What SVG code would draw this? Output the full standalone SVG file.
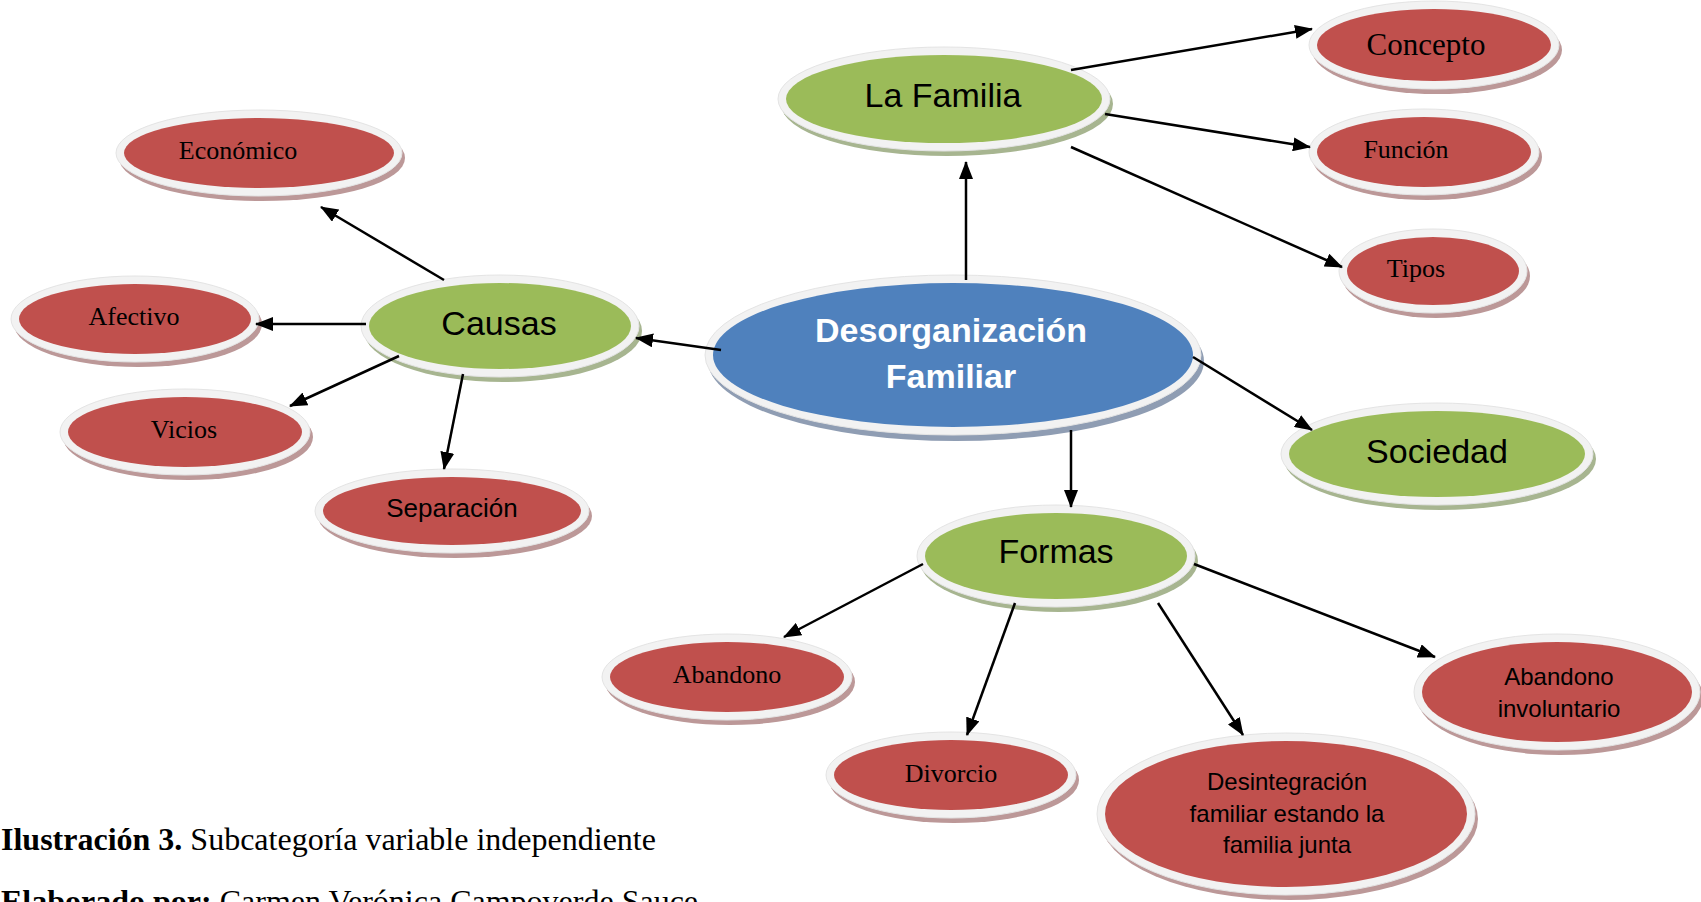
<svg xmlns="http://www.w3.org/2000/svg" width="1701" height="902" viewBox="0 0 1701 902">
<style>
.ring{fill:#f2f2f2;stroke:#e4e4e4;stroke-width:1}
.red .sh{fill:#bc9898}
.red .fill{fill:#c0504d}
.green .sh{fill:#a7b590}
.green .fill{fill:#9bbb59}
.blue .sh{fill:#8f9db3}
.blue .fill{fill:#4f81bd}
.tr{font-family:"Liberation Serif","Times New Roman",serif;font-size:26px;fill:#000;text-anchor:middle}
.ar{font-family:"Liberation Sans",Arial,sans-serif;fill:#000;text-anchor:middle}
.big{font-size:34px}
.mid{font-size:26px}
.sm{font-size:24px}
.cen{font-family:"Liberation Sans",Arial,sans-serif;font-size:34px;font-weight:bold;fill:#fff;text-anchor:middle}
.cap{font-family:"Liberation Serif","Times New Roman",serif;font-size:32px;fill:#000}
#connectors line{stroke:#000;stroke-width:2.5;marker-end:url(#ah)}
</style>
<defs>
<marker id="ah" markerUnits="userSpaceOnUse" markerWidth="18" markerHeight="14" refX="17" refY="7" orient="auto" viewBox="0 0 18 14">
<path d="M0,0 L18,7 L0,14 z" fill="#000"/>
</marker>
</defs>
<rect width="1701" height="902" fill="#fff"/>

<g id="n-central" class="blue">
<ellipse class="sh" cx="956" cy="361" rx="248" ry="80"/>
<ellipse class="ring" cx="953" cy="355" rx="248" ry="80"/>
<ellipse class="fill" cx="953" cy="355" rx="240" ry="72"/>
<text class="cen" x="951" y="342">Desorganización</text>
<text class="cen" x="951" y="388">Familiar</text>
</g>

<g id="n-lafamilia" class="green">
<ellipse class="sh" cx="947" cy="104" rx="166" ry="52"/>
<ellipse class="ring" cx="944" cy="99" rx="166" ry="52"/>
<ellipse class="fill" cx="944" cy="99" rx="158" ry="44"/>
<text class="ar big" x="943" y="107">La Familia</text>
</g>

<g id="n-concepto" class="red">
<ellipse class="sh" cx="1437" cy="50" rx="125" ry="44"/>
<ellipse class="ring" cx="1434" cy="45" rx="125" ry="44"/>
<ellipse class="fill" cx="1434" cy="45" rx="117" ry="36"/>
<text class="tr" style="font-size:31px" x="1426" y="55">Concepto</text>
</g>

<g id="n-funcion" class="red">
<ellipse class="sh" cx="1427" cy="157" rx="115" ry="43"/>
<ellipse class="ring" cx="1424" cy="152" rx="115" ry="43"/>
<ellipse class="fill" cx="1424" cy="152" rx="107" ry="35"/>
<text class="tr" x="1406" y="158">Función</text>
</g>

<g id="n-tipos" class="red">
<ellipse class="sh" cx="1436" cy="276" rx="94" ry="42"/>
<ellipse class="ring" cx="1433" cy="271" rx="94" ry="42"/>
<ellipse class="fill" cx="1433" cy="271" rx="86" ry="34"/>
<text class="tr" x="1416" y="277">Tipos</text>
</g>

<g id="n-economico" class="red">
<ellipse class="sh" cx="262" cy="158" rx="143" ry="43"/>
<ellipse class="ring" cx="259" cy="153" rx="143" ry="43"/>
<ellipse class="fill" cx="259" cy="153" rx="135" ry="35"/>
<text class="tr" x="238" y="159">Económico</text>
</g>

<g id="n-afectivo" class="red">
<ellipse class="sh" cx="138" cy="324" rx="124" ry="43"/>
<ellipse class="ring" cx="135" cy="319" rx="124" ry="43"/>
<ellipse class="fill" cx="135" cy="319" rx="116" ry="35"/>
<text class="tr" x="134" y="325">Afectivo</text>
</g>

<g id="n-causas" class="green">
<ellipse class="sh" cx="503" cy="331" rx="139" ry="51"/>
<ellipse class="ring" cx="500" cy="326" rx="139" ry="51"/>
<ellipse class="fill" cx="500" cy="326" rx="131" ry="43"/>
<text class="ar big" x="499" y="335">Causas</text>
</g>

<g id="n-vicios" class="red">
<ellipse class="sh" cx="188" cy="437" rx="125" ry="43"/>
<ellipse class="ring" cx="185" cy="432" rx="125" ry="43"/>
<ellipse class="fill" cx="185" cy="432" rx="117" ry="35"/>
<text class="tr" x="184" y="438">Vicios</text>
</g>

<g id="n-separacion" class="red">
<ellipse class="sh" cx="455" cy="516" rx="137" ry="42"/>
<ellipse class="ring" cx="452" cy="511" rx="137" ry="42"/>
<ellipse class="fill" cx="452" cy="511" rx="129" ry="34"/>
<text class="ar mid" x="452" y="517">Separación</text>
</g>

<g id="n-sociedad" class="green">
<ellipse class="sh" cx="1440" cy="459" rx="156" ry="51"/>
<ellipse class="ring" cx="1437" cy="454" rx="156" ry="51"/>
<ellipse class="fill" cx="1437" cy="454" rx="148" ry="43"/>
<text class="ar big" x="1437" y="463">Sociedad</text>
</g>

<g id="n-formas" class="green">
<ellipse class="sh" cx="1059" cy="561" rx="139" ry="51"/>
<ellipse class="ring" cx="1056" cy="556" rx="139" ry="51"/>
<ellipse class="fill" cx="1056" cy="556" rx="131" ry="43"/>
<text class="ar big" x="1056" y="563">Formas</text>
</g>

<g id="n-abandono" class="red">
<ellipse class="sh" cx="730" cy="682" rx="125" ry="43"/>
<ellipse class="ring" cx="727" cy="677" rx="125" ry="43"/>
<ellipse class="fill" cx="727" cy="677" rx="117" ry="35"/>
<text class="tr" x="727" y="683">Abandono</text>
</g>

<g id="n-divorcio" class="red">
<ellipse class="sh" cx="954" cy="780" rx="125" ry="43"/>
<ellipse class="ring" cx="951" cy="775" rx="125" ry="43"/>
<ellipse class="fill" cx="951" cy="775" rx="117" ry="35"/>
<text class="tr" x="951" y="782">Divorcio</text>
</g>

<g id="n-desintegracion" class="red">
<ellipse class="sh" cx="1289" cy="819" rx="189" ry="81"/>
<ellipse class="ring" cx="1286" cy="814" rx="189" ry="81"/>
<ellipse class="fill" cx="1286" cy="814" rx="181" ry="73"/>
<text class="ar sm" x="1287" y="790">Desintegración</text>
<text class="ar sm" x="1287" y="822">familiar estando la</text>
<text class="ar sm" x="1287" y="853">familia junta</text>
</g>

<g id="n-abandono-involuntario" class="red">
<ellipse class="sh" cx="1560" cy="697" rx="143" ry="58"/>
<ellipse class="ring" cx="1557" cy="692" rx="143" ry="58"/>
<ellipse class="fill" cx="1557" cy="692" rx="135" ry="50"/>
<text class="ar sm" x="1559" y="685">Abandono</text>
<text class="ar sm" x="1559" y="717">involuntario</text>
</g>

<g id="connectors">
<line x1="721" y1="350" x2="636" y2="338"/>
<line x1="966" y1="280" x2="966" y2="162"/>
<line x1="1071" y1="70" x2="1312" y2="29"/>
<line x1="1105" y1="114" x2="1310" y2="147"/>
<line x1="1071" y1="147" x2="1342" y2="267"/>
<line x1="444" y1="280" x2="321" y2="207"/>
<line x1="366" y1="324" x2="256" y2="324"/>
<line x1="399" y1="356" x2="290" y2="406"/>
<line x1="463" y1="374" x2="444" y2="469"/>
<line x1="1193" y1="357" x2="1312" y2="430"/>
<line x1="1071" y1="430" x2="1071" y2="507"/>
<line x1="923" y1="564" x2="784" y2="637"/>
<line x1="1015" y1="603" x2="967" y2="735"/>
<line x1="1158" y1="603" x2="1243" y2="735"/>
<line x1="1194" y1="564" x2="1435" y2="657"/>
</g>

<g id="caption">
<text class="cap" x="1" y="850"><tspan font-weight="bold">Ilustración 3.</tspan> Subcategoría variable independiente</text>
<text class="cap" x="1" y="912"><tspan font-weight="bold">Elaborado por:</tspan> Carmen Verónica Campoverde Sauce</text>
</g>
</svg>
